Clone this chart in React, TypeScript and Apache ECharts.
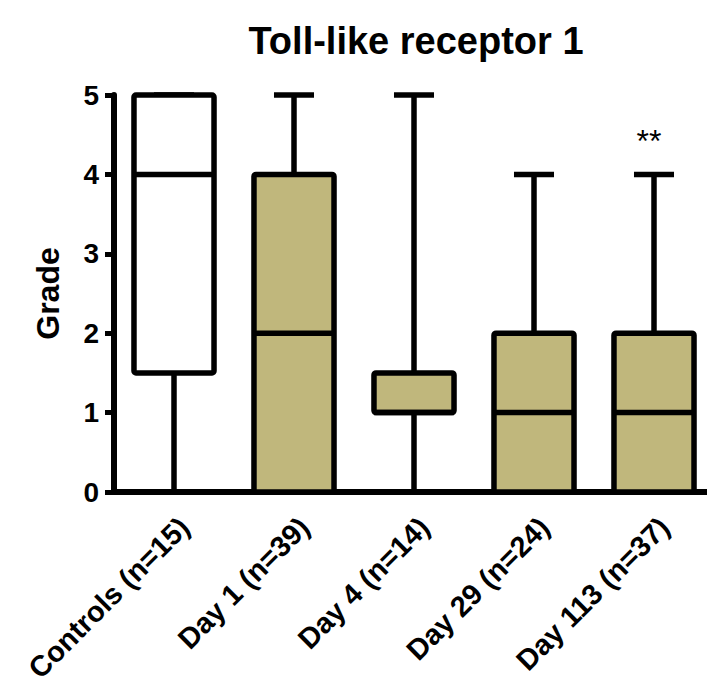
import React, { useEffect, useRef } from "react";
import * as echarts from "echarts";

const categories = ["Controls (n=15)", "Day 1 (n=39)", "Day 4 (n=14)", "Day 29 (n=24)", "Day 113 (n=37)"];
const minValues = [0, 0, 0, 0, 0];
const q1Values = [1.5, 0, 1, 0, 0];
const medianValues = [4, 2, 1, 1, 1];
const q3Values = [5, 4, 1.5, 2, 2];
const maxValues = [5, 5, 5, 4, 4];
const fillColors = ["#ffffff", "#c0b77c", "#c0b77c", "#c0b77c", "#c0b77c"];
const significance = ["", "", "", "", "**"];
const yTicks = [0, 1, 2, 3, 4, 5];

const FONT = "'Liberation Sans', Arial, sans-serif";

export default function App() {
  const ref = useRef<HTMLDivElement>(null);
  useEffect(() => {
    if (!ref.current) return;
    const chart = echarts.init(ref.current, undefined, { renderer: "svg" });
    const data = categories.map((_, i) => [i, minValues[i], q1Values[i], medianValues[i], q3Values[i], maxValues[i]]);
    const LW = 5.5;
    chart.setOption({
      animation: false,
      backgroundColor: "#ffffff",
      title: {
        text: "Toll-like receptor 1",
        left: 411,
        top: 17,
        textAlign: "center",
        textStyle: { fontFamily: FONT, fontWeight: "bold", fontSize: 38, color: "#000" },
      },
      grid: { left: 114, top: 95, width: 600, height: 397, outerBoundsMode: "none", containLabel: false },
      xAxis: {
        type: "category",
        data: categories,
        boundaryGap: true,
        axisLine: { lineStyle: { color: "#000", width: 6 } },
        axisTick: { alignWithLabel: true, length: 10, lineStyle: { color: "#000", width: 5 } },
        axisLabel: {
          interval: 0,
          rotate: 45,
          margin: 20,
          verticalAlign: "top",
          fontFamily: FONT,
          fontWeight: "bold",
          fontSize: 29,
          color: "#000",
        },
        splitLine: { show: false },
      },
      yAxis: {
        type: "value",
        min: yTicks[0],
        max: yTicks[yTicks.length - 1],
        interval: 1,
        name: "Grade",
        nameLocation: "middle",
        nameGap: 50,
        nameTextStyle: { fontFamily: FONT, fontWeight: "bold", fontSize: 32, color: "#000" },
        axisLine: { show: true, lineStyle: { color: "#000", width: 6 } },
        axisTick: { show: true, length: 9, lineStyle: { color: "#000", width: 5 } },
        axisLabel: { margin: 15, fontFamily: FONT, fontWeight: "bold", fontSize: 28, color: "#000" },
        splitLine: { show: false },
      },
      series: [
        {
          type: "custom",
          clip: false,
          data,
          encode: { x: 0, y: [1, 2, 3, 4, 5] },
          renderItem: (params: any, api: any) => {
            const i = api.value(0);
            const band = api.size([1, 0])[0];
            const bw = band * 0.667;
            const cx = api.coord([i, 0])[0];
            const yMin = api.coord([i, api.value(1)])[1];
            const yQ1 = api.coord([i, api.value(2)])[1];
            const yMed = api.coord([i, api.value(3)])[1];
            const yQ3 = api.coord([i, api.value(4)])[1];
            const yMax = api.coord([i, api.value(5)])[1];
            const ls = { stroke: "#000", lineWidth: LW, fill: null };
            const children: any[] = [
              { type: "line", shape: { x1: cx, y1: yQ3, x2: cx, y2: yMax }, style: ls },
              { type: "line", shape: { x1: cx - bw / 4, y1: yMax, x2: cx + bw / 4, y2: yMax }, style: ls },
              { type: "line", shape: { x1: cx, y1: yQ1, x2: cx, y2: yMin }, style: ls },
              { type: "line", shape: { x1: cx - bw / 4, y1: yMin, x2: cx + bw / 4, y2: yMin }, style: ls },
              {
                type: "rect",
                shape: { x: cx - bw / 2, y: yQ3, width: bw, height: yQ1 - yQ3, r: 2 },
                style: { fill: fillColors[i], stroke: "#000", lineWidth: LW, lineJoin: "round" },
              },
              { type: "line", shape: { x1: cx - bw / 2, y1: yMed, x2: cx + bw / 2, y2: yMed }, style: ls },
            ];
            if (significance[i]) {
              children.push({
                type: "text",
                x: cx - 5,
                y: yMax - 33,
                style: {
                  text: significance[i],
                  fill: "#000",
                  font: `normal 32px ${FONT}`,
                  align: "center",
                  verticalAlign: "middle",
                },
              });
            }
            return { type: "group", children };
          },
        },
      ],
    });
    return () => chart.dispose();
  }, []);
  return <div ref={ref} style={{ position: "fixed", left: 0, top: 0, width: 707, height: 682 }} />;
}
